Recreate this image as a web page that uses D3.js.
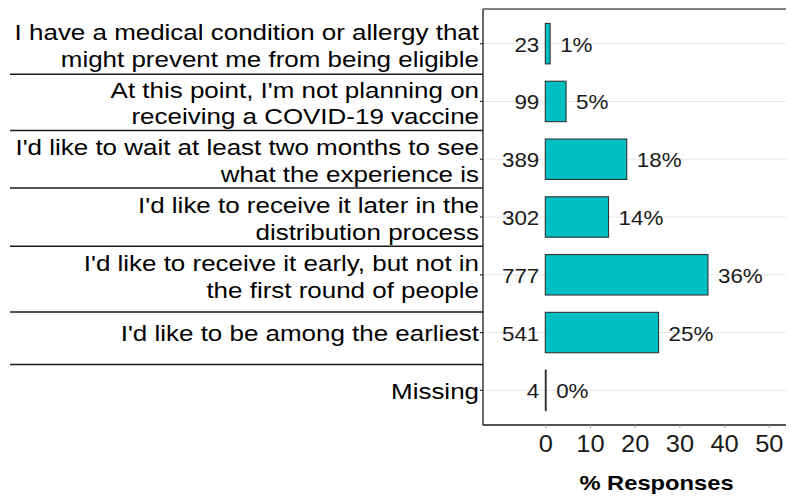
<!DOCTYPE html>
<html><head><meta charset="utf-8">
<script src="https://cdn.jsdelivr.net/npm/d3@7"></script>
<style>
html,body{margin:0;padding:0;background:#fff;}
svg{display:block;font-family:"Liberation Sans",Arial,sans-serif;}
</style></head>
<body>
<svg id="chart" width="797" height="499"></svg>
<script>
// ---- data ----
const categories = [
  ["I have a medical condition or allergy that", "might prevent me from being eligible"],
  ["At this point, I'm not planning on", "receiving a COVID-19 vaccine"],
  ["I'd like to wait at least two months to see", "what the experience is"],
  ["I'd like to receive it later in the", "distribution process"],
  ["I'd like to receive it early, but not in", "the first round of people"],
  ["I'd like to be among the earliest"],
  ["Missing"]
];
const counts = [23, 99, 389, 302, 777, 541, 4];
const percents = [1.08, 4.64, 18.22, 14.15, 36.39, 25.34, 0.19];
const xTicks = [0, 10, 20, 30, 40, 50];
const xTitle = "% Responses";
// separator offset below each label (px from band centre); last label has none
const sepOffsets = [30.7, 29, 28.7, 29.2, 37.2, 32, null];

// ---- layout ----
const svg = d3.select("#chart");
const P = {left: 483, right: 786, top: 9, bottom: 425};
const keys = categories.map((c, i) => "c" + i);
const SX_LABEL = 1.18, SX_VAL = 1.12, SX_TICK = 1.06, SX_TITLE = 1.13;

const x = d3.scaleLinear().domain([-13.94, 53.85]).range([P.left, P.right]);
const y = d3.scaleBand().domain(keys).range([P.top, P.bottom])
  .paddingInner(0.3).paddingOuter(0.25);
const cy = k => y(k) + y.bandwidth() / 2;

function stretched(g, tx, ty, sx) {
  return g.append("text").attr("transform", `translate(${tx},${ty}) scale(${sx},1)`);
}

// gridlines
svg.append("g").selectAll("line").data(keys).join("line")
  .attr("x1", P.left).attr("x2", P.right)
  .attr("y1", d => cy(d)).attr("y2", d => cy(d))
  .attr("stroke", "#e6e6e6").attr("stroke-width", 1);

// bars
svg.append("g").selectAll("rect").data(keys).join("rect")
  .attr("x", x(0))
  .attr("y", d => y(d))
  .attr("width", (d, i) => x(percents[i]) - x(0))
  .attr("height", y.bandwidth())
  .attr("fill", "#00BFC4")
  .attr("stroke", "#333333")
  .attr("stroke-width", 1.1);

// count and percent labels
const gv = svg.append("g").attr("font-size", 20).attr("fill", "#1a1a1a");
keys.forEach((k, i) => {
  stretched(gv, x(0) - 6, cy(k) + 8, SX_VAL).attr("text-anchor", "end").text(counts[i]);
  stretched(gv, x(percents[i]) + 10, cy(k) + 8, SX_VAL).attr("text-anchor", "start")
    .text(Math.round(percents[i]) + "%");
});

// panel border: top (gray), left axis, bottom axis
svg.append("line").attr("x1", P.left).attr("x2", P.right).attr("y1", P.top).attr("y2", P.top)
  .attr("stroke", "#555").attr("stroke-width", 1.3);
svg.append("line").attr("x1", P.left).attr("x2", P.left).attr("y1", P.top).attr("y2", P.bottom)
  .attr("stroke", "#1a1a1a").attr("stroke-width", 1.3);
svg.append("line").attr("x1", P.left).attr("x2", P.right).attr("y1", P.bottom).attr("y2", P.bottom)
  .attr("stroke", "#1a1a1a").attr("stroke-width", 1.3);

// x axis
const xAxis = d3.axisBottom(x).tickValues(xTicks).tickSize(3).tickPadding(6);
const gx = svg.append("g").attr("transform", `translate(0,${P.bottom})`).call(xAxis);
gx.select(".domain").remove();
gx.selectAll(".tick line").attr("stroke", "#999");
gx.selectAll(".tick text").attr("font-size", 24).attr("fill", "#1a1a1a")
  .attr("font-family", "Liberation Sans, Arial, sans-serif")
  .attr("dy", null).attr("y", null)
  .attr("transform", `translate(0,26.7) scale(${SX_TICK},1)`);

// y ticks
svg.append("g").selectAll("line").data(keys).join("line")
  .attr("x1", P.left - 3).attr("x2", P.left)
  .attr("y1", d => cy(d)).attr("y2", d => cy(d))
  .attr("stroke", "#333").attr("stroke-width", 1.2);

// category labels
const lineGap = 26.8;
const gl = svg.append("g").attr("font-size", 22).attr("fill", "#000").attr("text-anchor", "end");
categories.forEach((lines, i) => {
  const c = cy(keys[i]);
  const n = lines.length;
  lines.forEach((ln, j) => {
    const base = c + 8.5 - (n - 1) * lineGap / 2 + j * lineGap + (n > 1 ? 1 : 0);
    stretched(gl, P.left - 4, base, SX_LABEL).text(ln);
  });
});

// separators
svg.append("g").selectAll("line").data(keys.filter((k, i) => sepOffsets[i] != null)).join("line")
  .attr("x1", 10).attr("x2", P.left)
  .attr("y1", (d, i) => cy(d) + sepOffsets[i])
  .attr("y2", (d, i) => cy(d) + sepOffsets[i])
  .attr("stroke", "#1a1a1a").attr("stroke-width", 1.5);

// x title
stretched(svg, 656.5, 490, SX_TITLE)
  .attr("text-anchor", "middle")
  .attr("font-size", 21).attr("font-weight", "bold")
  .attr("fill", "#000")
  .text(xTitle);
</script>
</body></html>
